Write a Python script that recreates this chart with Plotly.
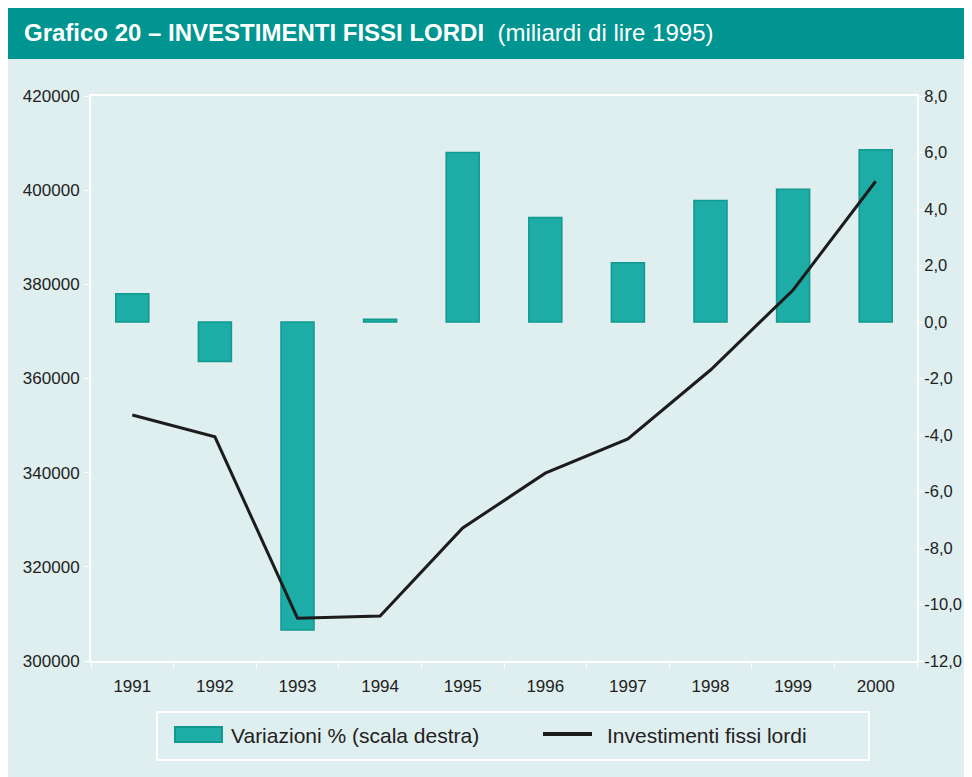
import plotly.graph_objects as go

years = ["1991", "1992", "1993", "1994", "1995", "1996", "1997", "1998", "1999", "2000"]
variazioni = [1.0, -1.4, -10.9, 0.1, 6.0, 3.7, 2.1, 4.3, 4.7, 6.1]
investimenti = [352250, 347600, 309100, 309550, 328250, 339900, 347150, 361800, 378800, 401900]
right_ticks = [-12, -10, -8, -6, -4, -2, 0, 2, 4, 6, 8]
right_labels = ["-12,0", "-10,0", "-8,0", "-6,0", "-4,0", "-2,0", "0,0", "2,0", "4,0", "6,0", "8,0"]
left_ticks = [300000, 320000, 340000, 360000, 380000, 400000, 420000]
left_labels = ["300000", "320000", "340000", "360000", "380000", "400000", "420000"]
series_names = ["Variazioni % (scala destra)", "Investimenti fissi lordi"]

# page has an 8px body margin, so the figure is drawn smaller and offset
OFF = 8
W, H = 972 - OFF, 777 - OFF
L, R, T = 91 - OFF, 972 - 917, 96 - OFF
B = H - (661 - OFF)
pw, ph = W - L - R, H - T - B

def px(x_screen):
    return (x_screen - OFF - L) / pw

def py(y_screen):
    return (H - (y_screen - OFF) - B) / ph

BG = "#dfeeee"
TEAL = "#009590"
BAR = "#1eaca7"
BAR_LINE = "#119990"
LINE = "#1c1c1c"
TXT = "#222222"

fig = go.Figure()
fig.add_trace(go.Bar(
    x=years, y=variazioni, name=series_names[0],
    marker=dict(color=BAR, line=dict(color=BAR_LINE, width=1.5)),
    width=0.4, yaxis="y", showlegend=False,
))
fig.add_trace(go.Scatter(
    x=years, y=investimenti, name=series_names[1], mode="lines",
    line=dict(color=LINE, width=3), yaxis="y2", showlegend=False,
))

shapes = [
    # title band
    dict(type="rect", xref="paper", yref="paper", x0=px(0), x1=px(990), y0=py(59), y1=py(-10),
         fillcolor=TEAL, line=dict(width=0), layer="below"),
    # legend frame
    dict(type="rect", xref="paper", yref="paper", x0=px(157), x1=px(869), y0=py(760), y1=py(712),
         fillcolor="rgba(0,0,0,0)", line=dict(color="white", width=2), layer="below"),
    # legend swatches
    dict(type="rect", xref="paper", yref="paper", x0=px(175), x1=px(222), y0=py(742), y1=py(727),
         fillcolor=BAR, line=dict(color=BAR_LINE, width=2), layer="above"),
    dict(type="line", xref="paper", yref="paper", x0=px(543), x1=px(592), y0=py(734), y1=py(734),
         line=dict(color=LINE, width=4), layer="above"),
]

annotations = [
    dict(text="<b>Grafico 20 – INVESTIMENTI FISSI LORDI</b>  (miliardi di lire 1995)",
         xref="paper", yref="paper", x=px(22), y=py(33), xanchor="left", yanchor="middle",
         showarrow=False, font=dict(color="white", size=24)),
    dict(text=series_names[0], xref="paper", yref="paper", x=px(229), y=py(735),
         xanchor="left", yanchor="middle", showarrow=False, font=dict(color=TXT, size=21)),
    dict(text=series_names[1], xref="paper", yref="paper", x=px(605), y=py(735),
         xanchor="left", yanchor="middle", showarrow=False, font=dict(color=TXT, size=21)),
]

fig.update_layout(
    width=W, height=H,
    margin=dict(l=L, r=R, t=T, b=B, autoexpand=False),
    paper_bgcolor=BG, plot_bgcolor=BG,
    font=dict(family="Liberation Sans, Arial, sans-serif", color=TXT, size=17),
    bargap=0.6,
    shapes=shapes,
    annotations=annotations,
    showlegend=False,
    xaxis=dict(
        type="category", showgrid=False, showline=True, linecolor="white", linewidth=2,
        mirror=True, ticks="outside", tickson="boundaries", ticklen=5, tickcolor="white",
        tickwidth=1, tickfont=dict(size=17, color=TXT), zeroline=False,
        ticklabelstandoff=9,
    ),
    yaxis=dict(
        side="right", range=[-12, 8], tickvals=right_ticks, ticktext=right_labels,
        showgrid=False, zeroline=False, showline=True, linecolor="white", linewidth=2,
        ticks="outside", ticklen=5, tickcolor="white", tickfont=dict(size=16.5, color=TXT),
        ticklabelstandoff=-3,
    ),
    yaxis2=dict(
        overlaying="y", side="left", range=[300000, 420000], tickvals=left_ticks,
        ticktext=left_labels, showgrid=False, zeroline=False, showline=True,
        linecolor="white", linewidth=2, ticks="outside", ticklen=5, tickcolor="white",
        tickfont=dict(size=17, color=TXT), ticklabelstandoff=1,
    ),
)

fig.write_html("out.html")
